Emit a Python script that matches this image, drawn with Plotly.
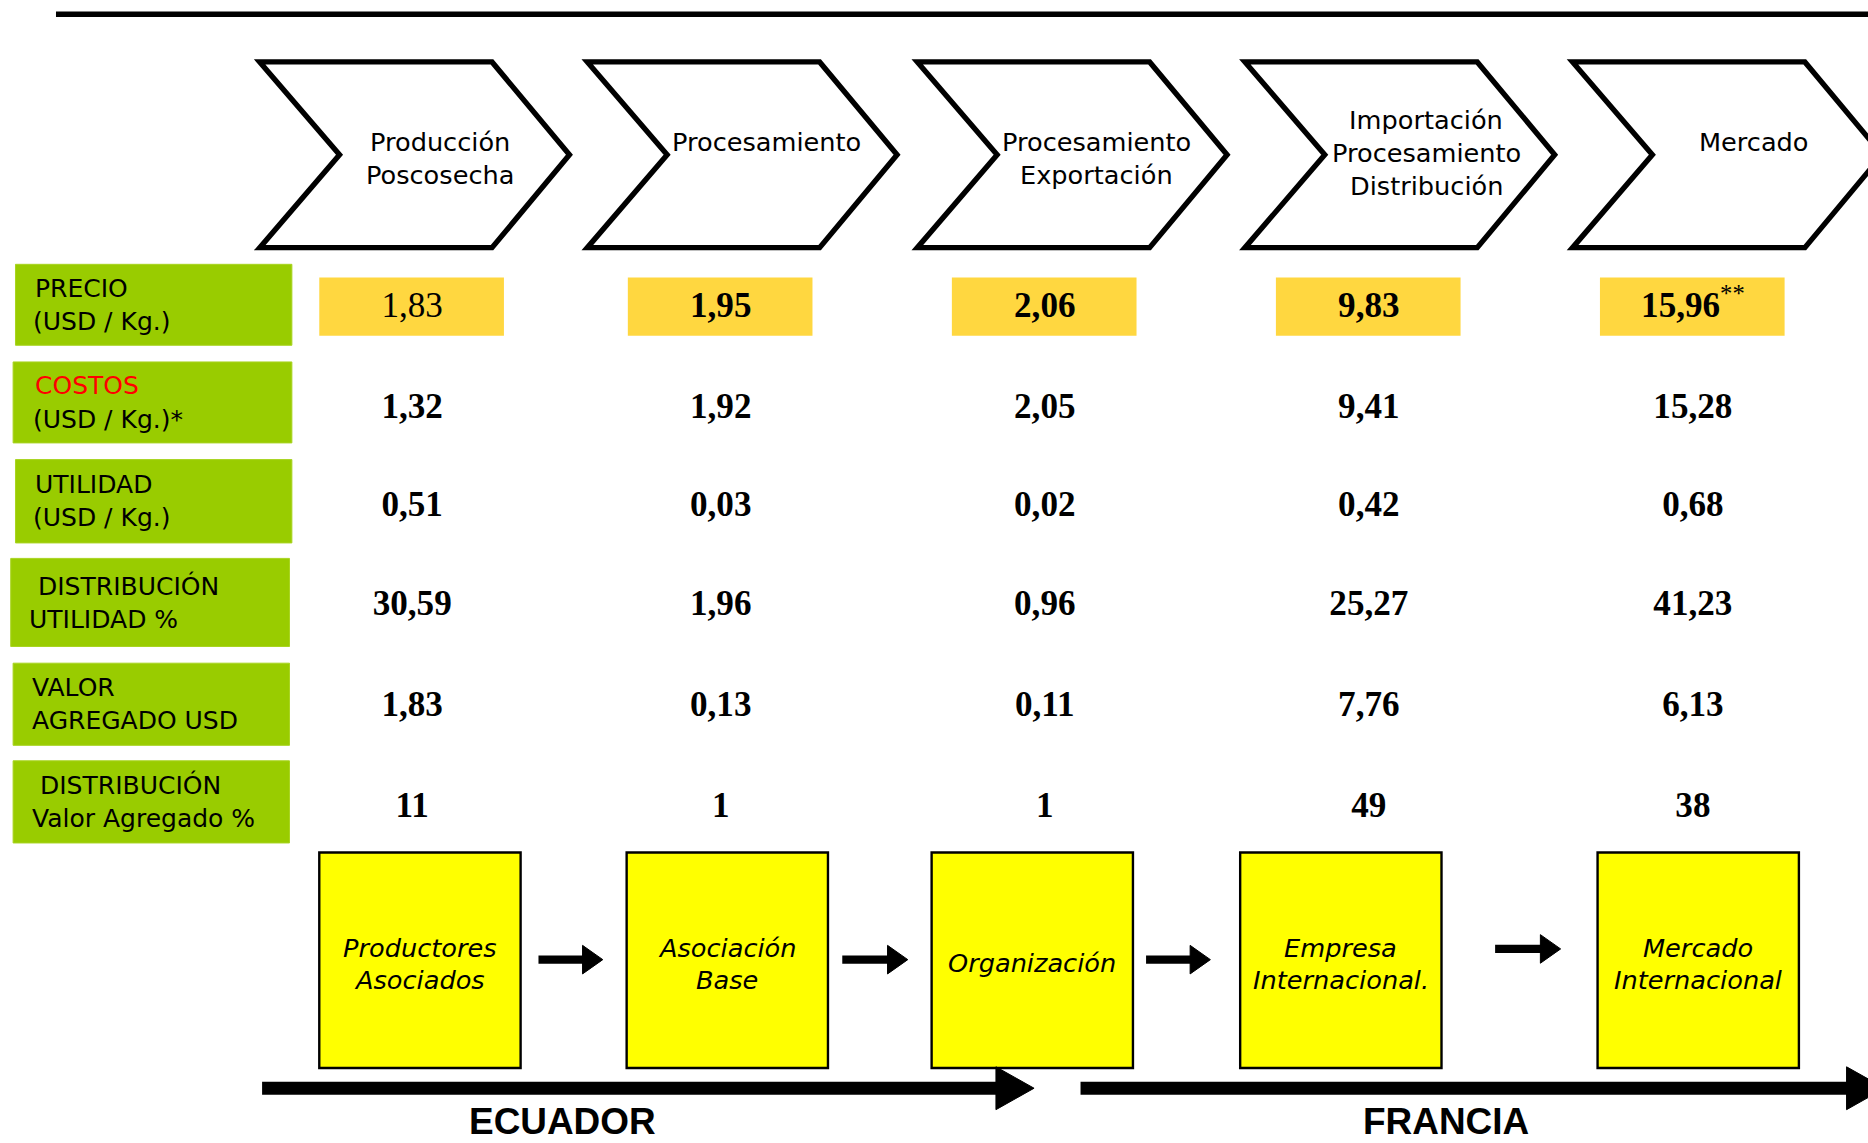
import plotly.graph_objects as go

# ---------------- data ----------------
stages = [["Producción", "Poscosecha"], ["Procesamiento"], ["Procesamiento", "Exportación"],
          ["Importación", "Procesamiento", "Distribución"], ["Mercado"]]
actors = [["Productores", "Asociados"], ["Asociación", "Base"], ["Organización"],
          ["Empresa", "Internacional."], ["Mercado", "Internacional"]]
row_labels = [["PRECIO", "(USD / Kg.)"], ["COSTOS", "(USD / Kg.)*"], ["UTILIDAD", "(USD / Kg.)"],
              ["DISTRIBUCIÓN", "UTILIDAD %"], ["VALOR", "AGREGADO USD"],
              ["DISTRIBUCIÓN", "Valor Agregado %"]]
precio = [1.83, 1.95, 2.06, 9.83, 15.96]
costos = [1.32, 1.92, 2.05, 9.41, 15.28]
utilidad = [0.51, 0.03, 0.02, 0.42, 0.68]
dist_utilidad = [30.59, 1.96, 0.96, 25.27, 41.23]
valor_agregado = [1.83, 0.13, 0.11, 7.76, 6.13]
dist_valor_agregado = [11, 1, 1, 49, 38]
countries = ["ECUADOR", "FRANCIA"]

# ---------------- layout helpers (reference drawn in 1568x960 units) ----------------
W, H = 1868, 1143
S = W / 1568.0
def fs(px):
    return px * S

def fmt(v, dec=2):
    return f"{v:.{dec}f}".replace(".", ",")

fig = go.Figure()
shapes = []
ann = []

# top rule
shapes.append(dict(type="line", x0=47, x1=1575, y0=12, y1=12, layer="below",
                   line=dict(color="black", width=4.5 * S)))

# chevrons
chev_x0 = [218, 493, 770, 1045, 1320]
stage_cx = [369, 643, 920, 1197, 1472]
for x0, cx, lines in zip(chev_x0, stage_cx, stages):
    path = (f"M{x0},52 L{x0+195},52 L{x0+260},130 L{x0+195},208 L{x0},208 L{x0+67},130 Z")
    shapes.append(dict(type="path", path=path, layer="below",
                       line=dict(color="black", width=4.5 * S), fillcolor="white"))
    n = len(lines)
    for k, t in enumerate(lines):
        if n == 1:
            y = 119
        elif n == 2:
            y = 119 + k * 28
        else:
            y = 101 + k * 27.5
        ann.append(dict(x=cx, y=y, text=t, showarrow=False, xanchor="center", yanchor="middle",
                        font=dict(family="DejaVu Sans", size=fs(21.5), color="black")))

# green row-label boxes
label_boxes = [(13, 245, 222, 290), (11, 245, 304, 372), (13, 245, 386, 456),
               (9, 243, 469, 543), (11, 243, 557, 626), (11, 243, 639, 708)]
label_x = [(28, 26), (28, 26), (28, 26), (30, 23), (25, 25), (32, 25)]
for (x0, x1, y0, y1), (lx1, lx2), lines in zip(label_boxes, label_x, row_labels):
    shapes.append(dict(type="rect", x0=x0, x1=x1, y0=y0, y1=y1, fillcolor="#99CC00", layer="below",
                       line=dict(color="#A8D420", width=1)))
    ym = (y0 + y1) / 2
    for k, (t, lx) in enumerate(zip(lines, (lx1, lx2))):
        col = "#FF0000" if t == "COSTOS" else "black"
        ann.append(dict(x=lx, y=ym - 14 + 28 * k, text=t, showarrow=False, xanchor="left",
                        yanchor="middle", font=dict(family="DejaVu Sans", size=fs(21), color=col)))

# price highlight boxes
col_cx = [346, 605, 877, 1149, 1421]
for cx in col_cx:
    shapes.append(dict(type="rect", x0=cx - 78, x1=cx + 77, y0=233, y1=282, layer="below",
                       fillcolor="#FFD740", line=dict(width=0)))

# value rows
row_y = [259, 344, 426, 509, 594, 679]
rows = [precio, costos, utilidad, dist_utilidad, valor_agregado, dist_valor_agregado]
for r, (vals, y) in enumerate(zip(rows, row_y)):
    texts = []
    for c, v in enumerate(vals):
        s = fmt(v, 0) if r == 5 else fmt(v)
        if r == 0 and c == 0:
            texts.append(s)
        elif r == 0 and c == 4:
            texts.append(f"<b>{s}</b><sup>**</sup>")
        else:
            texts.append(f"<b>{s}</b>")
    fig.add_trace(go.Scatter(x=col_cx, y=[y] * len(vals), mode="text", text=texts,
                             textposition="middle center", hoverinfo="skip",
                             textfont=dict(family="Liberation Serif", size=fs(29.5), color="black"),
                             showlegend=False))

# bottom actor boxes
box_x = [(268, 437), (526, 695), (782, 951), (1041, 1210), (1341, 1510)]
for (x0, x1), lines in zip(box_x, actors):
    shapes.append(dict(type="rect", x0=x0, x1=x1, y0=716, y1=897, fillcolor="#FFFF00", layer="below",
                       line=dict(color="black", width=2 * S)))
    cx = (x0 + x1) / 2
    n = len(lines)
    for k, t in enumerate(lines):
        y = 809 if n == 1 else 796 + 27 * k
        ann.append(dict(x=cx, y=y, text=f"<i>{t}</i>", showarrow=False, xanchor="center",
                        yanchor="middle", font=dict(family="DejaVu Sans", size=fs(21.5), color="black")))

# arrows
def arrow(xs, xe, y, shaft, head_len, head_half):
    shapes.append(dict(type="line", x0=xs, x1=xe - head_len + 2, y0=y, y1=y, layer="below",
                       line=dict(color="black", width=shaft * S)))
    shapes.append(dict(type="path", layer="below",
                       path=f"M{xe-head_len},{y-head_half} L{xe},{y} L{xe-head_len},{y+head_half} Z",
                       fillcolor="black", line=dict(color="black", width=1)))

for xs, xe, y in [(452, 506, 806), (707, 762, 806), (962, 1016, 806), (1255, 1310, 797)]:
    arrow(xs, xe, y, 7, 17, 12)

# big country arrows
arrow(220, 868, 914, 11, 32, 18)
arrow(907, 1582, 914, 11, 32, 18)

for t, x in zip(countries, [472, 1214]):
    ann.append(dict(x=x, y=942, text=f"<b>{t}</b>", showarrow=False, xanchor="center",
                    yanchor="middle", font=dict(family="Liberation Sans", size=fs(31), color="black")))

fig.update_layout(
    width=W, height=H, margin=dict(l=0, r=0, t=0, b=0),
    paper_bgcolor="white", plot_bgcolor="white",
    xaxis=dict(range=[0, 1568], visible=False, fixedrange=True),
    yaxis=dict(range=[960, 0], visible=False, fixedrange=True),
    shapes=shapes, annotations=ann, showlegend=False,
)
fig.write_html("out.html", config={"displayModeBar": False},
               post_script="document.body.style.margin='0';document.body.style.overflow='hidden';")
